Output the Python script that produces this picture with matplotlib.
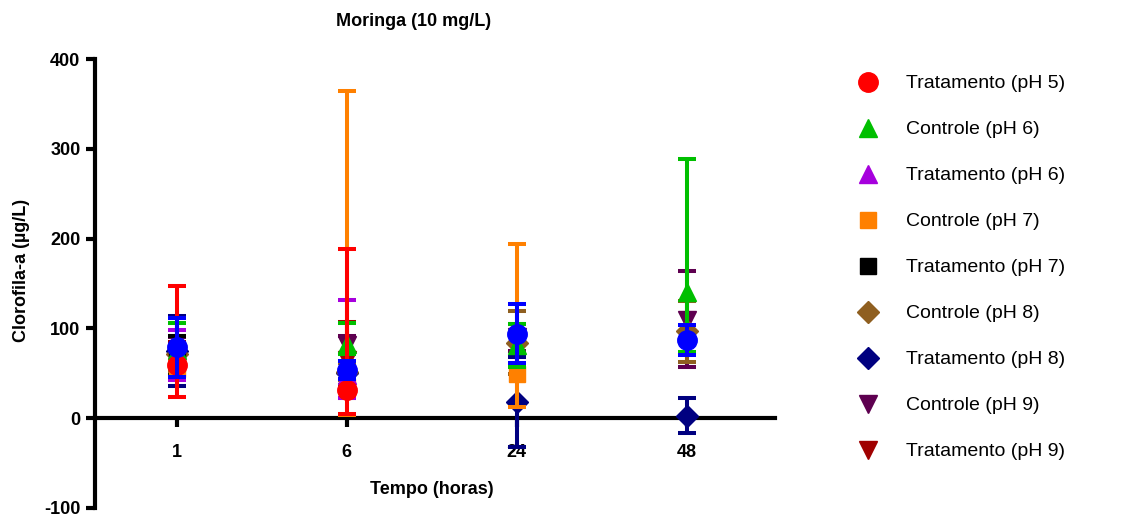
import matplotlib.pyplot as plt
from matplotlib.lines import Line2D
import numpy as np

plt.rcParams['font.family'] = ['Liberation Sans', 'DejaVu Sans']
plt.rcParams['axes.unicode_minus'] = False

times = ['1', '6', '24', '48']
nan = np.nan

# media e barras de erro (inferior, superior) por grupo
ctrl_ph5 = [79, 54, 94, 87]
ctrl_ph5_lo = [33, 10, 33, 17]
ctrl_ph5_hi = [33, 10, 33, 17]

trat_ph5 = [59, 31, nan, nan]
trat_ph5_lo = [35, 26, nan, nan]
trat_ph5_hi = [88, 157, nan, nan]

ctrl_ph6 = [76, 83, 81, 141]
ctrl_ph6_lo = [30, 12, 24, 67]
ctrl_ph6_hi = [30, 23, 24, 148]

trat_ph6 = [70, 48, nan, nan]
trat_ph6_lo = [28, 25, nan, nan]
trat_ph6_hi = [28, 84, nan, nan]

ctrl_ph7 = [55, 35, 49, nan]
ctrl_ph7_lo = [10, 31, 37, nan]
ctrl_ph7_hi = [10, 329, 145, nan]

trat_ph7 = [70, nan, nan, nan]
trat_ph7_lo = [22, nan, nan, nan]
trat_ph7_hi = [22, nan, nan, nan]

ctrl_ph8 = [72, 52, 84, 97]
ctrl_ph8_lo = [20, 10, 35, 34]
ctrl_ph8_hi = [20, 10, 35, 34]

trat_ph8 = [75, 50, 18, 3]
trat_ph8_lo = [39, 13, 50, 19]
trat_ph8_hi = [39, 13, 50, 19]

ctrl_ph9 = [72, 81, 90, 109]
ctrl_ph9_lo = [18, 10, 15, 52]
ctrl_ph9_hi = [18, 10, 15, 55]

trat_ph9 = [70, 65, nan, nan]
trat_ph9_lo = [15, 42, nan, nan]
trat_ph9_hi = [15, 42, nan, nan]

# (label, dados, erro inf, erro sup, marcador, cor, tamanho)
series = [
    (None, ctrl_ph5, ctrl_ph5_lo, ctrl_ph5_hi, 'o', '#0000FF', 14),
    ('Tratamento (pH 5)', trat_ph5, trat_ph5_lo, trat_ph5_hi, 'o', '#FF0000', 14),
    ('Controle (pH 6)', ctrl_ph6, ctrl_ph6_lo, ctrl_ph6_hi, '^', '#00BF00', 13),
    ('Tratamento (pH 6)', trat_ph6, trat_ph6_lo, trat_ph6_hi, '^', '#A600DD', 13),
    ('Controle (pH 7)', ctrl_ph7, ctrl_ph7_lo, ctrl_ph7_hi, 's', '#FF8000', 12),
    ('Tratamento (pH 7)', trat_ph7, trat_ph7_lo, trat_ph7_hi, 's', '#000000', 12),
    ('Controle (pH 8)', ctrl_ph8, ctrl_ph8_lo, ctrl_ph8_hi, 'D', '#8F5F20', 11),
    ('Tratamento (pH 8)', trat_ph8, trat_ph8_lo, trat_ph8_hi, 'D', '#000080', 11),
    ('Controle (pH 9)', ctrl_ph9, ctrl_ph9_lo, ctrl_ph9_hi, 'v', '#5E0050', 13),
    ('Tratamento (pH 9)', trat_ph9, trat_ph9_lo, trat_ph9_hi, 'v', '#A00000', 13),
]

fig = plt.figure(figsize=(11.35, 5.23), dpi=100)
ax = fig.add_axes([95 / 1135, 1 - 508 / 523, 680 / 1135, 449 / 523])

x = np.arange(len(times))
n = len(series)
for i, (label, y, lo, hi, m, c, ms) in enumerate(series):
    ax.errorbar(x, y, yerr=[lo, hi], fmt=m, color=c, ecolor=c, ms=ms,
                mec=c, elinewidth=2.9, capsize=6.5, capthick=2.9,
                zorder=20 + n - i)

ax.set_xlim(-0.48, 3.52)
ax.set_ylim(-100, 400)
ax.set_yticks([-100, 0, 100, 200, 300, 400])
ax.set_xticks(x)
ax.set_xticklabels(times)

for s in ['top', 'right']:
    ax.spines[s].set_visible(False)
ax.spines['bottom'].set_position(('data', 0))
ax.spines['left'].set_linewidth(3)
ax.spines['bottom'].set_linewidth(3)
ax.tick_params(axis='both', width=3, length=6.5, labelsize=13)
ax.tick_params(axis='x', pad=12)
ax.tick_params(axis='y', pad=4)
for t in ax.get_xticklabels() + ax.get_yticklabels():
    t.set_fontweight('bold')

fig.text(414 / 1135, 1 - 22 / 523, 'Moringa (10 mg/L)', ha='center',
         va='center', fontsize=13, fontweight='bold')
fig.text(432 / 1135, 1 - 490 / 523, 'Tempo (horas)', ha='center',
         va='center', fontsize=13, fontweight='bold')
fig.text(22 / 1135, 1 - 270 / 523, 'Clorofila-a (µg/L)', ha='center',
         va='center', rotation=90, fontsize=13, fontweight='bold')

handles = [Line2D([], [], marker=m, color=c, ls='none', ms=ms)
           for (label, y, lo, hi, m, c, ms) in series[1:]]
labels = [s[0] for s in series[1:]]
fig.legend(handles, labels, loc='upper left',
           bbox_to_anchor=(850 / 1135, 1 - 67 / 523), frameon=False,
           fontsize=14, labelspacing=1.46, handletextpad=1.4,
           handlelength=1.1, borderaxespad=0)

fig.savefig('out.png', dpi=100)
